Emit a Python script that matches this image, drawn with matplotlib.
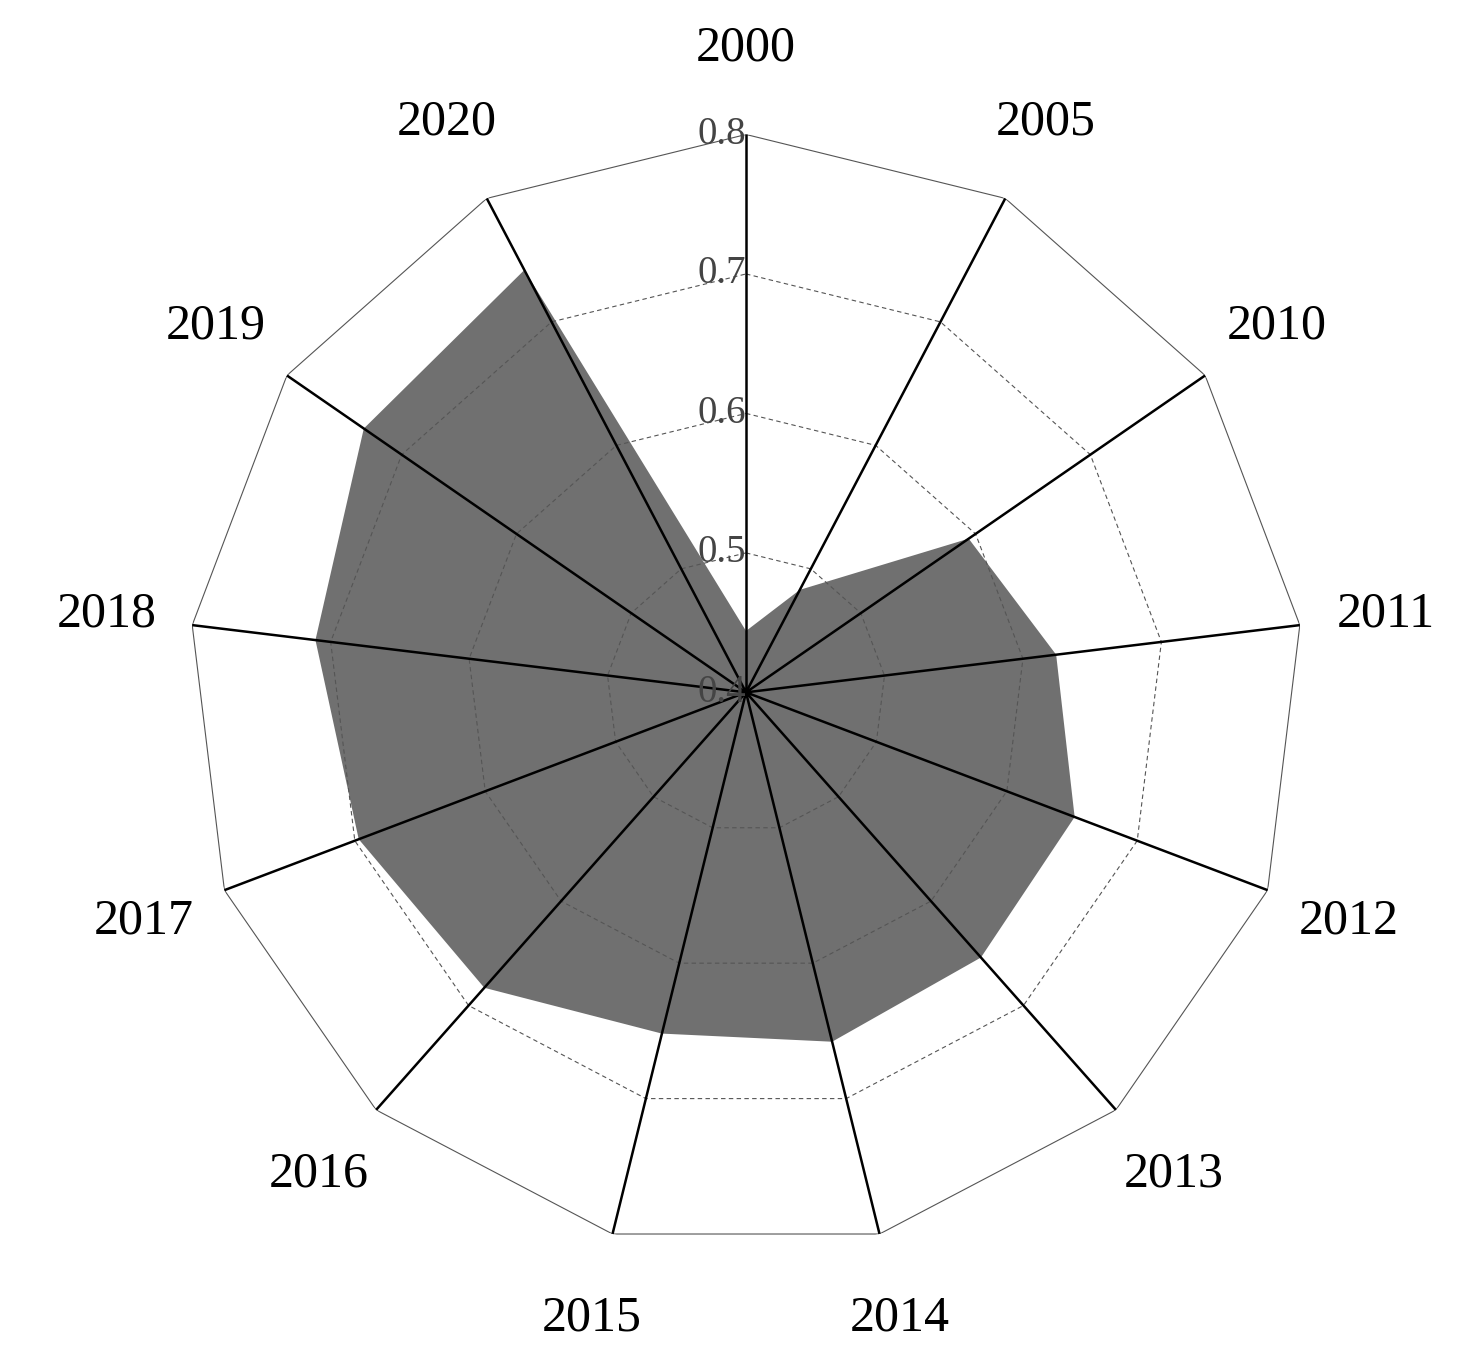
import numpy as np
import matplotlib
matplotlib.use("Agg")
import matplotlib.pyplot as plt

years = ["2000","2005","2010","2011","2012","2013","2014","2015","2016","2017","2018","2019","2020"]
values = [0.444,0.483,0.594,0.624,0.652,0.654,0.658,0.652,0.683,0.697,0.711,0.733,0.742]
rticks = [0.4,0.5,0.6,0.7,0.8]
rtick_labels = ["0.4","0.5","0.6","0.7","0.8"]

plt.rcParams['font.family'] = ['Liberation Serif', 'DejaVu Serif']
fig = plt.figure(figsize=(14.7,13.71), dpi=100)
ax = fig.add_axes([0.128,0.088,0.759,0.814], projection='polar')
ax.set_theta_offset(np.pi/2)
ax.set_theta_direction(-1)
ax.set_ylim(0.4,0.8)
ax.axis('off')

n = len(years)
th = np.linspace(0, 2*np.pi, n, endpoint=False)
thc = np.append(th, th[0])
vc = np.append(values, values[0])
ax.fill(thc, vc, color='#707070', zorder=2, lw=0)

for r in rticks[1:]:
    ls = '-' if r == 0.8 else (0,(4,3))
    ax.plot(thc, [r]*len(thc), color='#555555', lw=0.8, ls=ls, zorder=3)
for t in th:
    ax.plot([t,t],[0.4,0.8], color='black', lw=1.8, zorder=4)
ax.plot([0],[0.4], 'o', color='black', ms=6, zorder=5)

for r, lab in zip(rticks, rtick_labels):
    ax.text(0, r, lab, ha='right', va='center', fontsize=28, color='#444444', zorder=6)

for t, y in zip(th, years):
    ax.text(t, 0.862, y, ha='center', va='center', fontsize=36, color='black', clip_on=False)

fig.savefig("out.png", dpi=100, facecolor='white')
